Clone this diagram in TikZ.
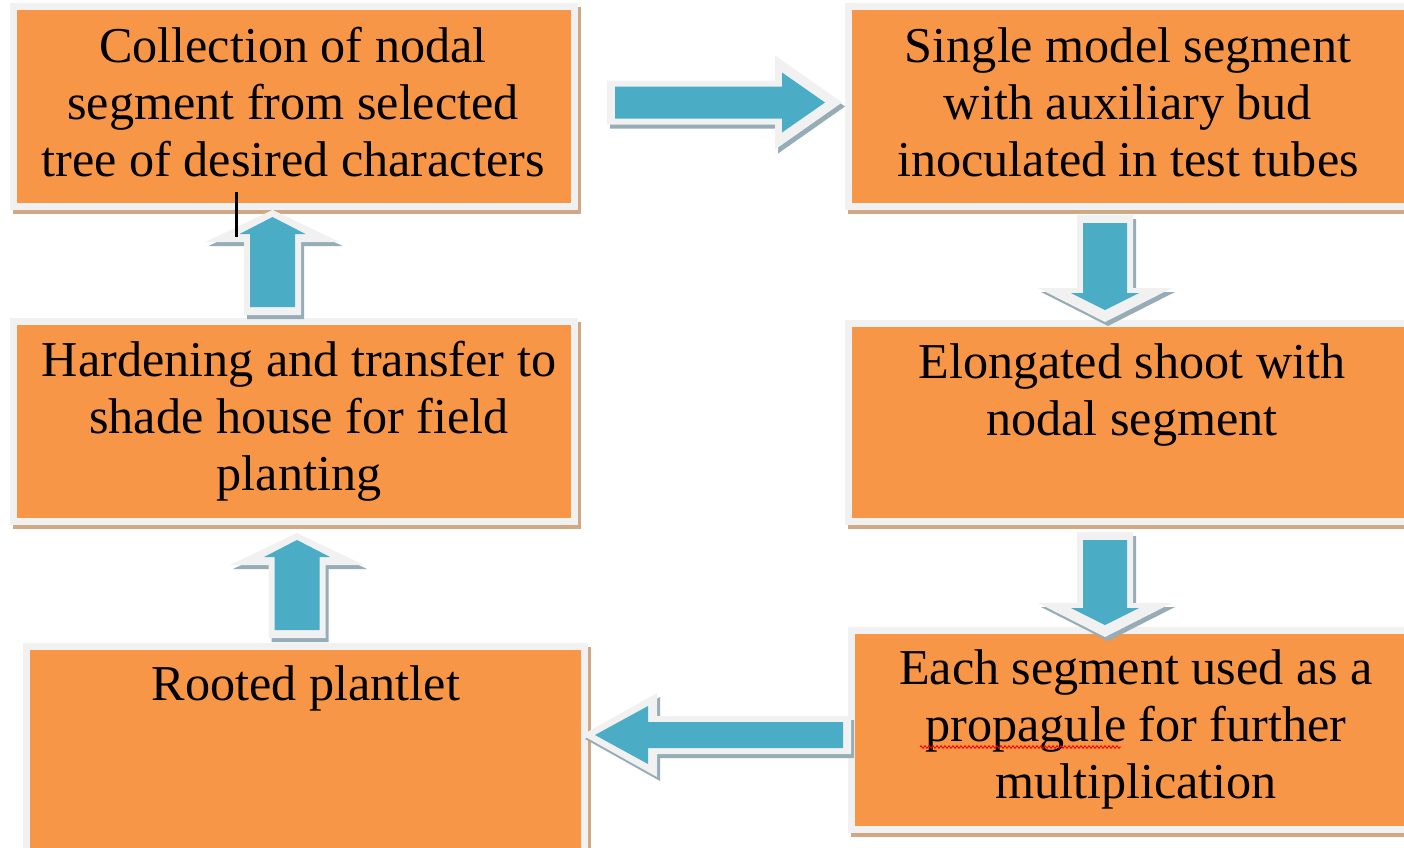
\documentclass[tikz,border=0pt]{standalone}
\usepackage{fontspec}
\setmainfont{Liberation Serif}
\usetikzlibrary{calc,decorations.pathmorphing}
\definecolor{boxorange}{RGB}{247,150,70}
\definecolor{arrowblue}{RGB}{75,172,198}
\definecolor{edgegray}{RGB}{241,241,241}
\definecolor{shadowtan}{RGB}{208,168,132}
\definecolor{arrowshadow}{RGB}{150,172,182}
\tikzset{
  stepbox/.style={draw=edgegray, line width=7pt, fill=boxorange, inner sep=0pt},
  boxtext/.style={font=\fontsize{50.2}{57}\selectfont, align=center, anchor=north, inner sep=0pt, text=black},
  pics/barrow/.style n args={9}{code={
    % #1 length, #2 shaft half width, #3 head half width, #4 head length,
    % #5 outline tip extension, #6 outline head half width, #7 outline head length, #8/#9 shadow shift
    \fill[arrowshadow, shift={(#8,#9)}] (-8,{#2+6}) -- ({#1+#5-#7},{#2+6}) -- ({#1+#5-#7},#6) -- ({#1+#5},0)
       -- ({#1+#5-#7},-#6) -- ({#1+#5-#7},{-#2-6}) -- (-8,{-#2-6}) -- cycle;
    \fill[edgegray] (-8,{#2+6}) -- ({#1+#5-#7},{#2+6}) -- ({#1+#5-#7},#6) -- ({#1+#5},0)
       -- ({#1+#5-#7},-#6) -- ({#1+#5-#7},{-#2-6}) -- (-8,{-#2-6}) -- cycle;
    \fill[arrowblue] (0,#2) -- ({#1-#4},#2) -- ({#1-#4},#3) -- (#1,0)
       -- ({#1-#4},-#3) -- ({#1-#4},-#2) -- (0,-#2) -- cycle;
  }}
}
\newcommand\flowbox[5]{%
  \fill[shadowtan] ({#2-(#4)/2-7+3},{-(#3)-(#5)/2-7-4}) rectangle ({#2+(#4)/2+7+3},{-(#3)+(#5)/2+7-4});
  \node[stepbox, minimum width={#4+7}, minimum height={#5+7}] (#1) at (#2,-#3) {};
}
\begin{document}
\begin{tikzpicture}[x=1pt,y=1pt]
\path[use as bounding box, clip] (0,0) rectangle (1404,-847);
\fill[white] (0,0) rectangle (1404,-847);

% boxes: name, centre x, centre y (downwards), orange width, orange height
\flowbox{b1}{294}{106.5}{554}{193}
\flowbox{b2}{1134}{106.5}{564}{193}
\flowbox{b3}{294}{421.5}{554}{193}
\flowbox{b4}{1134}{422.5}{564}{191}
\flowbox{b5}{305.5}{751}{551}{202}
\flowbox{b6}{1135}{730}{560}{192}

% texts
\node[boxtext] (t1) at (293,-27) {\rule{0pt}{35pt}Collection of nodal\\segment from selected\\tree of desired characters};
\node[boxtext] (t2) at (1128,-27) {\rule{0pt}{35pt}Single model segment\\with auxiliary bud\\inoculated in test tubes};
\node[boxtext] (t3) at (299,-341) {\rule{0pt}{35pt}Hardening and transfer to\\shade house for field\\planting};
\node[boxtext] (t4) at (1132,-343) {\rule{0pt}{35pt}Elongated shoot with\\nodal segment};
\node[boxtext] (t5) at (306,-665) {\rule{0pt}{35pt}Rooted plantlet};
\node[boxtext] (t6) at (1136,-649) {\rule{0pt}{35pt}Each segment used as a\\propagule for further\\multiplication};

% block arrows
\coordinate (a1) at (615,-102.5);
\coordinate (a2) at (272.5,-307);
\coordinate (a3) at (1105,-223);
\coordinate (a4) at (1105,-540);
\coordinate (a5) at (297,-630);
\coordinate (a6) at (843,-735);
\pic at (a1) {barrow={210}{16}{30}{43}{17}{47}{67}{3}{-4}};
\pic[rotate=90] at (a2) {barrow={90}{22.5}{33}{17}{7}{67}{32}{-4}{-3}};
\pic[rotate=-90] at (a3) {barrow={87}{22}{34}{17}{12}{67}{34}{4}{3}};
\pic[rotate=-90] at (a4) {barrow={85}{22}{34}{17}{12}{67}{34}{4}{3}};
\pic[rotate=90] at (a5) {barrow={90}{22.5}{33}{17}{7}{67}{32}{-4}{-3}};
\pic[rotate=180] at (a6) {barrow={248}{13}{29}{53}{13}{42}{75}{-3}{4}};

% text cursor and spelling mark
\coordinate (c1) at (236,-192);
\coordinate (c2) at (236,-237);
\draw[black, line width=3pt] (c1) -- (c2);
\coordinate (s1) at (920,-747);
\coordinate (s2) at (1121,-747);
\draw[red, line width=0.9pt, decorate, decoration={zigzag, amplitude=1.3pt, segment length=4pt}] (s1) -- (s2);
\end{tikzpicture}
\end{document}
